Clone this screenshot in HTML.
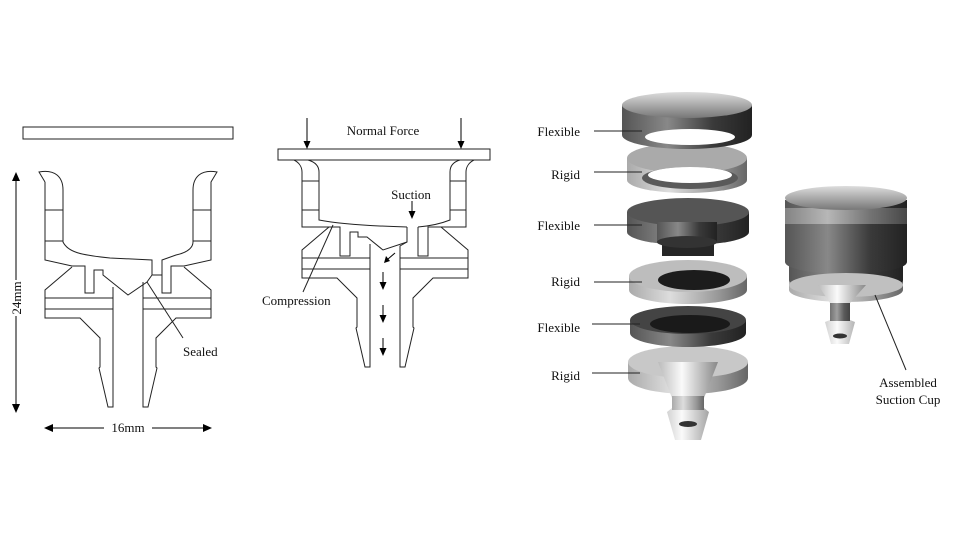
<!DOCTYPE html>
<html><head><meta charset="utf-8"><style>
html,body{margin:0;padding:0;background:#fff;}
svg{display:block;}
text{font-family:"Liberation Serif",serif;font-size:13px;fill:#111;}
</style></head><body>
<svg width="960" height="537" viewBox="0 0 960 537" xmlns="http://www.w3.org/2000/svg">
<defs>
<linearGradient id="dk" x1="0" x2="1" y1="0" y2="0"><stop offset="0" stop-color="#555"/><stop offset="0.35" stop-color="#888"/><stop offset="0.7" stop-color="#3a3a3a"/><stop offset="1" stop-color="#222"/></linearGradient>
<linearGradient id="lt" x1="0" x2="1" y1="0" y2="0"><stop offset="0" stop-color="#aaa"/><stop offset="0.35" stop-color="#ddd"/><stop offset="0.75" stop-color="#999"/><stop offset="1" stop-color="#666"/></linearGradient>
<linearGradient id="wh" x1="0" x2="1" y1="0" y2="0"><stop offset="0" stop-color="#bbb"/><stop offset="0.4" stop-color="#fafafa"/><stop offset="1" stop-color="#888"/></linearGradient>
<linearGradient id="tp" x1="0" x2="0" y1="0" y2="1"><stop offset="0" stop-color="#ddd"/><stop offset="1" stop-color="#777"/></linearGradient>
</defs>

<!-- LEFT DRAWING -->
<g fill="none" stroke="#222" stroke-width="1">
<rect x="23" y="127" width="210" height="12"/>
<path d="M45,182 L39,172 C55,169 63,177 63,190 L63,242 C68,252 80,255 110,258 L152,260 L152,275 L162,275 L162,260 L176,255 C190,252 193,246 193,242 L193,190 C193,177 201,169 217,172 L211,182 L211,260 L184,266 L171,266 L171,293 L162,293 L162,275"/>
<path d="M45,182 L45,260 L72,266 L85,266 L85,293 L94,293 L94,270 L103,270 L103,275 L128,295 L147,282 L152,275"/>
<line x1="45" y1="210" x2="63" y2="210"/><line x1="45" y1="241" x2="63" y2="241"/>
<line x1="193" y1="210" x2="211" y2="210"/><line x1="193" y1="241" x2="211" y2="241"/>
<path d="M72,267 L45,290 L45,318 L80,318 L100,338 L100,367 L99,368 L108,407 L113,407 L113,287"/>
<path d="M184,267 L211,290 L211,318 L176,318 L156,338 L156,367 L157,368 L148,407 L143,407 L143,282"/>
<line x1="45" y1="298" x2="113" y2="298"/><line x1="45" y1="309" x2="113" y2="309"/>
<line x1="143" y1="298" x2="211" y2="298"/><line x1="143" y1="309" x2="211" y2="309"/>
<line x1="147" y1="282" x2="183" y2="338"/>
</g>
<text x="183" y="356">Sealed</text>
<path d="M16,172 l-4,9 h8 z M16,413 l-4,-9 h8 z" fill="#000"/>
<line x1="16" y1="180" x2="16" y2="280" stroke="#000"/><line x1="16" y1="316" x2="16" y2="405" stroke="#000"/>
<text x="0" y="0" transform="translate(21,298) rotate(-90)" text-anchor="middle">24mm</text>
<path d="M44,428 l9,-4 v8 z M212,428 l-9,-4 v8 z" fill="#000"/>
<line x1="52" y1="428" x2="104" y2="428" stroke="#000"/><line x1="152" y1="428" x2="204" y2="428" stroke="#000"/>
<text x="128" y="432" text-anchor="middle">16mm</text>

<!-- MIDDLE DRAWING -->
<g fill="none" stroke="#222" stroke-width="1">
<rect x="278" y="149" width="212" height="11"/>
<path d="M294,160 C298,162 302,166 302,172 L302,227 L329,227 L340,227 L340,256 L350,256 L350,232 L358,232 L358,237 L367,237 L383,250 L407,242 L407,227"/>
<path d="M308,160 C315,162 319,166 319,172 L319,220 C340,224 370,226 407,227"/>
<path d="M474,160 C470,162 466,166 466,172 L466,227 L441,227 L428,227 L428,256 L418,256 L418,227"/>
<path d="M460,160 C453,162 450,166 450,172 L450,220 C440,224 430,226 418,227"/>
<line x1="302" y1="181" x2="319" y2="181"/><line x1="302" y1="210" x2="319" y2="210"/>
<line x1="450" y1="181" x2="466" y2="181"/><line x1="450" y1="210" x2="466" y2="210"/>
<path d="M329,227 L302,250 L302,278 L337,278 L357,298 L357,327 L356,328 L365,367 L370,367 L370,244"/>
<path d="M441,227 L468,250 L468,278 L433,278 L413,298 L413,327 L414,328 L405,367 L400,367 L400,246 L407,242"/>
<line x1="302" y1="258" x2="370" y2="258"/><line x1="302" y1="269" x2="370" y2="269"/>
<line x1="400" y1="258" x2="468" y2="258"/><line x1="400" y1="269" x2="468" y2="269"/>
<line x1="333" y1="225" x2="303" y2="292"/>
</g>
<g stroke="#000" fill="none">
<line x1="307" y1="118" x2="307" y2="142"/><line x1="461" y1="118" x2="461" y2="142"/>
<line x1="412" y1="201" x2="412" y2="212"/>
<line x1="395" y1="253" x2="388" y2="259"/>
<line x1="383" y1="272" x2="383" y2="283"/><line x1="383" y1="305" x2="383" y2="316"/><line x1="383" y1="338" x2="383" y2="349"/>
</g>
<g fill="#000">
<path d="M307,149 l-3.5,-8 h7 z"/><path d="M461,149 l-3.5,-8 h7 z"/>
<path d="M412,219 l-3.5,-8 h7 z"/>
<path d="M384,263 l2,-7 l4,5 z"/>
<path d="M383,290 l-3.5,-8 h7 z"/><path d="M383,323 l-3.5,-8 h7 z"/><path d="M383,356 l-3.5,-8 h7 z"/>
</g>
<text x="383" y="135" text-anchor="middle">Normal Force</text>
<text x="411" y="199" text-anchor="middle">Suction</text>
<text x="262" y="305">Compression</text>

<!-- EXPLODED STACK -->
<path d="M628,362 L628,378 A60,16 0 0 0 748,378 L748,362 Z" fill="url(#lt)"/>
<ellipse cx="688" cy="362" rx="60" ry="16" fill="#c8c8c8"/>
<path d="M658,362 L672,398 L672,408 L667,412 L675,440 L701,440 L709,412 L704,408 L704,398 L718,362 Z" fill="url(#wh)"/>
<rect x="672" y="396" width="32" height="14" fill="url(#lt)"/>
<ellipse cx="688" cy="424" rx="9" ry="3" fill="#333"/>
<path d="M630,320 L630,333 A58,14 0 0 0 746,333 L746,320 Z" fill="url(#dk)"/>
<ellipse cx="688" cy="320" rx="58" ry="14" fill="#444"/>
<ellipse cx="690" cy="324" rx="40" ry="9" fill="#1a1a1a"/>
<path d="M629,276 L629,290 A59,14 0 0 0 747,290 L747,276 Z" fill="url(#lt)"/>
<ellipse cx="688" cy="276" rx="59" ry="16" fill="#bdbdbd"/>
<ellipse cx="694" cy="280" rx="36" ry="10" fill="#1c1c1c"/>
<rect x="662" y="236" width="52" height="20" fill="#262626"/>
<path d="M627,212 L627,232 A61,13 0 0 0 749,232 L749,212 Z" fill="url(#dk)"/>
<ellipse cx="688" cy="212" rx="61" ry="14" fill="#555"/>
<rect x="657" y="222" width="60" height="20" fill="url(#dk)"/>
<ellipse cx="687" cy="242" rx="30" ry="6" fill="#333"/>
<path d="M627,158 L627,180 A60,13 0 0 0 747,180 L747,158 Z" fill="url(#lt)"/>
<ellipse cx="687" cy="158" rx="60" ry="15" fill="#aaa"/>
<ellipse cx="690" cy="178" rx="48" ry="11" fill="#5a5a5a"/>
<ellipse cx="690" cy="175" rx="42" ry="8" fill="#fff"/>
<path d="M622,105 L622,135 A65,14 0 0 0 752,135 L752,105 Z" fill="url(#dk)"/>
<ellipse cx="687" cy="105" rx="65" ry="13" fill="url(#tp)"/>
<ellipse cx="690" cy="137" rx="45" ry="8" fill="#fff"/>

<!-- ASSEMBLED -->
<path d="M789,280 L789,290 A57,12 0 0 0 903,290 L903,280 Z" fill="url(#lt)"/>
<path d="M789,262 L789,280 A57,12 0 0 0 903,280 L903,262 Z" fill="url(#dk)"/>
<path d="M785,200 L785,262 A61,12 0 0 0 907,262 L907,200 Z" fill="url(#dk)"/>
<rect x="785" y="208" width="122" height="16" fill="url(#lt)" opacity="0.55"/>
<ellipse cx="846" cy="198" rx="61" ry="12" fill="url(#tp)"/>
<ellipse cx="846" cy="285" rx="57" ry="12" fill="#c0c0c0"/>
<path d="M818,285 L830,303 L830,320 L825,322 L831,344 L849,344 L855,322 L850,320 L850,303 L866,285 Z" fill="url(#wh)"/>
<rect x="830" y="303" width="20" height="18" fill="url(#dk)" opacity="0.8"/>
<ellipse cx="840" cy="336" rx="7" ry="2.5" fill="#333"/>
<line x1="875" y1="295" x2="906" y2="370" stroke="#222"/>
<text x="908" y="387" text-anchor="middle">Assembled</text>
<text x="908" y="404" text-anchor="middle">Suction Cup</text>

<!-- LABELS -->
<g stroke="#222">
<line x1="594" y1="131" x2="642" y2="131"/><line x1="594" y1="172" x2="642" y2="172"/>
<line x1="594" y1="225" x2="642" y2="225"/><line x1="594" y1="282" x2="642" y2="282"/>
<line x1="592" y1="324" x2="640" y2="324"/><line x1="592" y1="373" x2="640" y2="373"/>
</g>
<g text-anchor="end">
<text x="580" y="136">Flexible</text><text x="580" y="179">Rigid</text>
<text x="580" y="230">Flexible</text><text x="580" y="286">Rigid</text>
<text x="580" y="332">Flexible</text><text x="580" y="380">Rigid</text>
</g>
</svg>
</body></html>
